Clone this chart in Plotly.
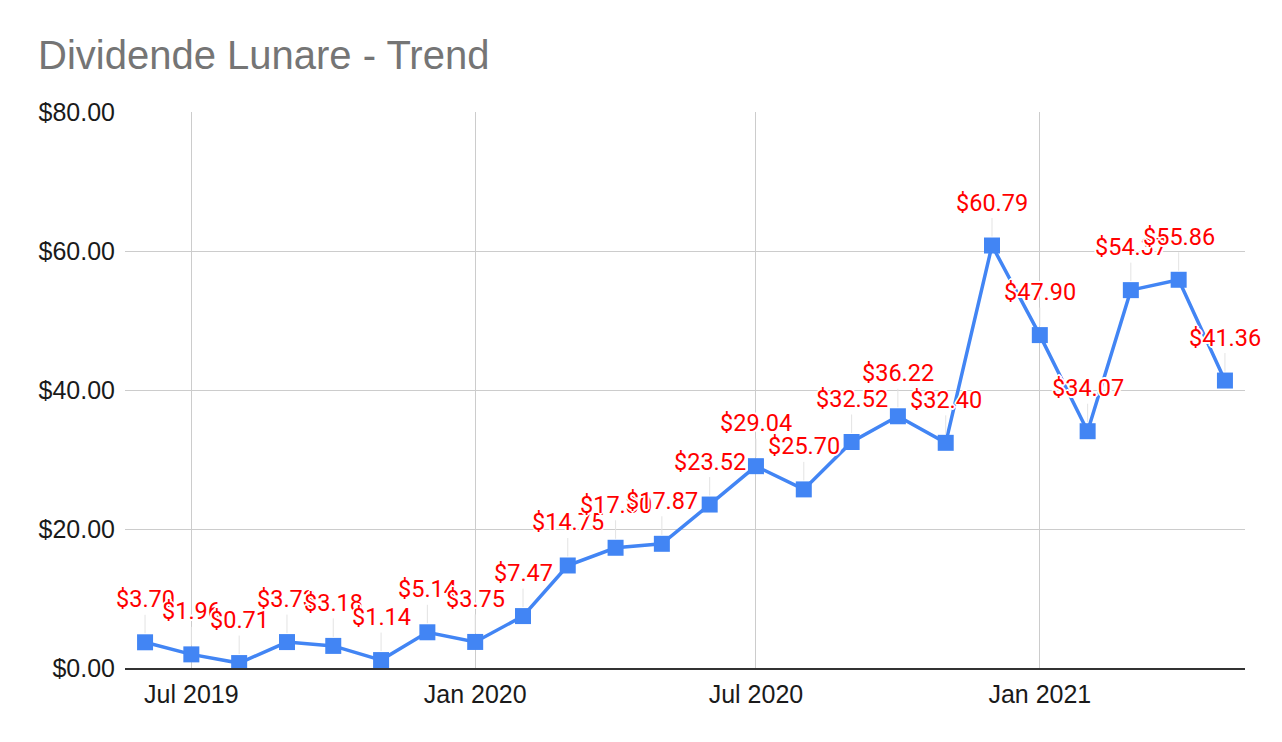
# Dividende Lunare - monthly trend, line chart with value labels

import plotly.graph_objects as go

months = [
    "2019-06-01", "2019-07-01", "2019-08-01", "2019-09-01", "2019-10-01", "2019-11-01",
    "2019-12-01", "2020-01-01", "2020-02-01", "2020-03-01", "2020-04-01", "2020-05-01",
    "2020-06-01", "2020-07-01", "2020-08-01", "2020-09-01", "2020-10-01", "2020-11-01",
    "2020-12-01", "2021-01-01", "2021-02-01", "2021-03-01", "2021-04-01", "2021-05-01",
]
dividends = [
    3.70, 1.96, 0.71, 3.73, 3.18, 1.14,
    5.14, 3.75, 7.47, 14.75, 17.30, 17.87,
    23.52, 29.04, 25.70, 32.52, 36.22, 32.40,
    60.79, 47.90, 34.07, 54.37, 55.86, 41.36,
]
x_tick_vals = ["2019-07-01", "2020-01-01", "2020-07-01", "2021-01-01"]
x_tick_text = ["Jul 2019", "Jan 2020", "Jul 2020", "Jan 2021"]
y_ticks = [0, 20, 40, 60, 80]

blue = "#4285F4"
halo = ", ".join("%dpx %dpx 0 white" % (dx, dy)
                 for dx, dy in [(2, 0), (-2, 0), (0, 2), (0, -2), (1, 1), (-1, -1), (1, -1), (-1, 1)])

fig = go.Figure()
fig.add_trace(go.Scatter(
    x=months, y=dividends, mode="lines+markers",
    line=dict(color=blue, width=3.5),
    marker=dict(symbol="square", size=16, color=blue),
    hoverinfo="skip", showlegend=False,
))

# data labels with small leader lines, like Google Sheets
for m, v in zip(months, dividends):
    fig.add_annotation(
        x=m, y=v, text="${:.2f}".format(v),
        showarrow=True, arrowhead=0, arrowwidth=1, arrowcolor="#e3e3e3",
        ax=0, ay=-43, standoff=9,
        font=dict(family="Roboto", size=23.5, color="#ff0000", shadow=halo),
    )

# page body has an 8px margin, so everything is shifted by that
fig.update_layout(
    width=1282, height=742,
    paper_bgcolor="white", plot_bgcolor="white",
    margin=dict(l=117, r=45, t=104, b=82),
    title=dict(
        text="Dividende Lunare - Trend",
        x=30 / 1282, xref="container", xanchor="left",
        y=1 - 47 / 742, yref="container", yanchor="middle",
        font=dict(family="Liberation Sans", size=40, color="#757575"),
    ),
    font=dict(family="Liberation Sans", size=25, color="#1a1a1a"),
)
fig.update_xaxes(
    type="date", range=["2019-05-19", "2021-05-14"],
    tickvals=x_tick_vals, ticktext=x_tick_text,
    showgrid=True, gridcolor="#cccccc", gridwidth=1,
    showline=True, linecolor="#333333", linewidth=2,
    ticks="", ticklabelstandoff=3, zeroline=False,
)
fig.update_yaxes(
    range=[0, 80], tickvals=y_ticks, tickformat="$.2f",
    showgrid=True, gridcolor="#cccccc", gridwidth=1,
    zeroline=False, ticks="", ticklabelstandoff=9,
)

fig.write_html("out.html")
